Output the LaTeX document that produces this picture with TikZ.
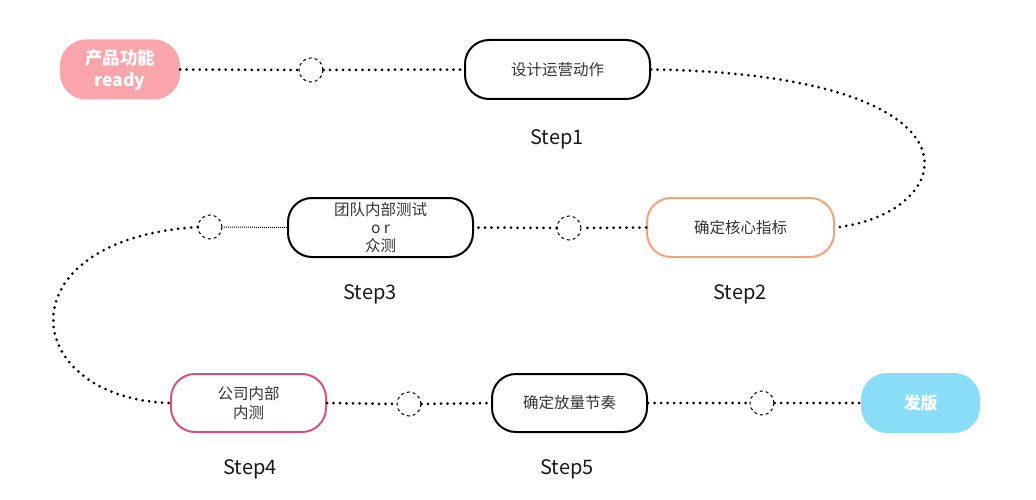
\documentclass[tikz,border=0pt]{standalone}
\usepackage{fontspec}
\setmainfont{Noto Sans CJK SC}
\definecolor{txt}{HTML}{333333}
\definecolor{pinkfill}{HTML}{FAA5AC}
\definecolor{bluefill}{HTML}{8ADDF7}
\definecolor{orangeline}{HTML}{F2A27E}
\definecolor{roseline}{HTML}{D9507F}
\begin{document}
\begin{tikzpicture}[x=1pt,y=-1pt,
  box/.style={draw, line width=2pt, rounded corners=24pt, minimum height=59pt,
    font=\fontsize{15.5}{19}\selectfont, text=txt, align=center, inner sep=0pt},
  filled/.style={rounded corners=26pt, minimum height=60pt, text=white,
    font=\fontsize{17.5}{22}\selectfont\bfseries, align=center, inner sep=0pt},
  ring/.style={circle, draw, dashed, line width=1pt, minimum size=24pt, inner sep=0pt},
  steplabel/.style={font=\fontsize{20}{24}\selectfont, text=black!90},
  dots/.style={line width=3pt, line cap=round, dash pattern=on 0pt off 6.5pt},
  finedots/.style={line width=1pt, dash pattern=on 1pt off 1pt}
]
\useasboundingbox (0,0) rectangle (1036,500);

\node[filled, fill=pinkfill, minimum width=120pt] (ready) at (120,69.5) {产品功能\\ready};
\node[box, minimum width=185pt] (s1) at (557.5,69.5) {设计运营动作};
\node[box, draw=orangeline, minimum width=187pt] (s2) at (740.5,227.5) {确定核心指标};
\node[box, minimum width=185pt, font=\fontsize{15.5}{18}\selectfont] (s3) at (380.5,227.5) {团队内部测试\\o r\\众测};
\node[box, draw=roseline, minimum width=155pt, minimum height=58pt] (s4) at (248.5,403) {公司内部\\内测};
\node[box, minimum width=155pt, minimum height=58pt] (s5) at (569.5,403) {确定放量节奏};
\node[filled, fill=bluefill, minimum width=119pt, font=\fontsize{17}{22}\selectfont\bfseries] (fa) at (920.5,403) {发版};

\node[ring] (c1) at (311,70) {};
\node[ring] (c2) at (569,228) {};
\node[ring] (c3) at (210,227) {};
\node[ring] (c4) at (409,404) {};
\node[ring] (c5) at (762,403) {};

\node[steplabel] (l1) at (557,139) {Step1};
\node[steplabel] (l2) at (740,294) {Step2};
\node[steplabel] (l3) at (370,294) {Step3};
\node[steplabel] (l4) at (250,469) {Step4};
\node[steplabel] (l5) at (567,469) {Step5};

\draw[dots] (ready.east) -- (c1.west);
\draw[dots] (c1.east) -- (s1.west);
\draw[dots] (s1.east) .. controls +(349,5) and +(124,-13) .. (s2.east);
\draw[dots] (s2.west) -- (c2.east);
\draw[dots] (c2.west) -- (s3.east);
\draw[finedots] (s3.west) -- (c3.east);
\draw[dots] (c3.west) .. controls +(-198,13) and +(-150,-4) .. (s4.west);
\draw[dots] (s4.east) -- (c4.west);
\draw[dots] (c4.east) -- (s5.west);
\draw[dots] (s5.east) -- (c5.west);
\draw[dots] (c5.east) -- (fa.west);
\end{tikzpicture}
\end{document}
